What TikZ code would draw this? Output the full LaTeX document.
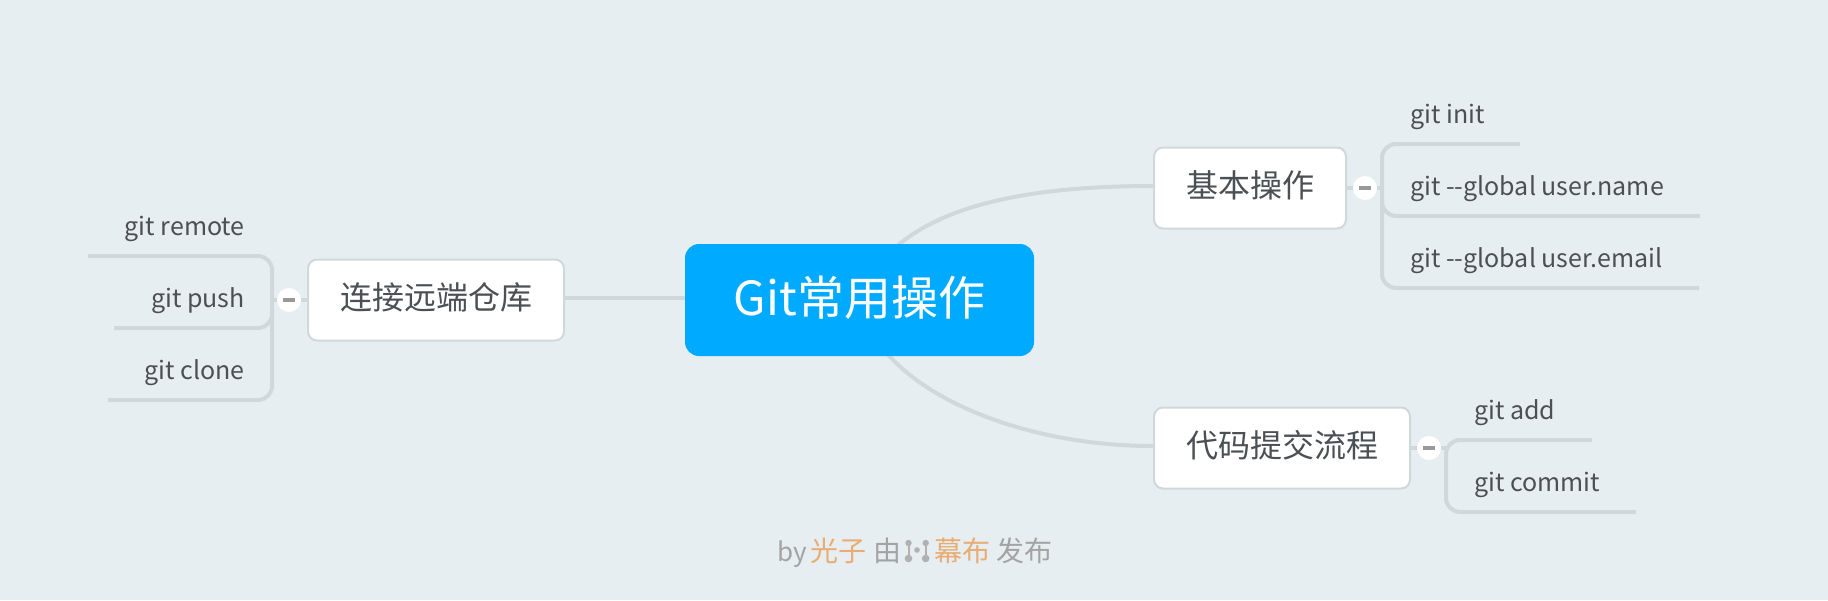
\documentclass[tikz,border=0pt]{standalone}
\usepackage{fontspec}
\setmainfont{Noto Sans CJK SC}
\usetikzlibrary{backgrounds}
\definecolor{bgc}{HTML}{E6EEF1}
\definecolor{linec}{HTML}{D0D8DC}
\definecolor{rootc}{HTML}{00AAFF}
\definecolor{textc}{HTML}{4A5054}
\definecolor{foldc}{HTML}{999999}
\definecolor{footc}{HTML}{A3A3A3}
\definecolor{orangec}{HTML}{E9AC73}
\newcommand{\liftup}[2]{\raisebox{#1}[\height][\depth]{#2}}
\tikzset{
  rootbox/.style={fill=rootc,rounded corners=14pt,minimum width=349pt,minimum height=112pt,inner sep=0pt,text=white,font=\fontsize{47}{52}\selectfont},
  topicbox/.style={draw=linec,line width=2pt,fill=white,rounded corners=9pt,minimum height=81pt,inner sep=0pt,text=textc,font=\fontsize{32}{36}\selectfont},
  leaf/.style={inner sep=0pt,text=textc,font=\fontsize{25}{30}\selectfont},
  conn/.style={draw=linec,line width=4pt},
  fold/.style={circle,fill=white,minimum size=24pt,inner sep=0pt},
  foot/.style={inner sep=0pt,text=footc,font=\fontsize{28}{32}\selectfont},
  footo/.style={foot,text=orangec},
}
\begin{document}
\begin{tikzpicture}[x=1pt,y=-1pt]
\useasboundingbox (0,0) rectangle (1828,600);
\node[rootbox] (root) at (859.5,300) {\liftup{2.5pt}{Git常用操作}};
\node[topicbox,minimum width=192pt] (basic) at (1250,188) {\liftup{3pt}{基本操作}};
\node[topicbox,minimum width=256pt] (remote) at (436,300) {\liftup{2.5pt}{连接远端仓库}};
\node[topicbox,minimum width=256pt] (flow) at (1282,448) {\liftup{3pt}{代码提交流程}};

\node[fold] (f1) at (1365,188) {};
\node[fold] (f2) at (289,300) {};
\node[fold] (f3) at (1429,448) {};

\node[leaf,anchor=base west] (a1) at (1410,123) {git init};
\node[leaf,anchor=base west] (a2) at (1410,195) {git {-}{-}global user.name};
\node[leaf,anchor=base west] (a3) at (1410,267) {git {-}{-}global user.email};
\node[leaf,anchor=base west] (c1) at (1474,419) {git add};
\node[leaf,anchor=base west] (c2) at (1474,491) {git commit};
\node[leaf,anchor=base east] (b1) at (245,235) {git remote};
\node[leaf,anchor=base east] (b2) at (245,307) {git push};
\node[leaf,anchor=base east] (b3) at (245,379) {git clone};

\coordinate (a1e) at (1520,144);
\coordinate (a2e) at (1700,216);
\coordinate (a3e) at (1699,288);
\coordinate (c1e) at (1592,440);
\coordinate (c2e) at (1636,512);
\coordinate (b1e) at (88,256);
\coordinate (b2e) at (114,328);
\coordinate (b3e) at (108,400);

\begin{pgfonlayer}{background}
\fill[bgc] (0,0) rectangle (1828,600);
\draw[conn] (root.center) .. controls (890,215) and (1000,186) .. ([yshift=2pt]basic.west);
\draw[conn] (root.center) .. controls (875,385) and (1010,446) .. ([yshift=2pt]flow.west);
\draw[conn] ([yshift=2pt]root.west) -- ([yshift=2pt]remote.east);
\draw[conn] (basic.east) -- (1382,188);
\draw[conn] (remote.west) -- (272,300);
\draw[conn] (flow.east) -- (1446,448);
\draw[conn,rounded corners=14pt] (a1e) -- (1382,144) -- (1382,216) -- (a2e);
\draw[conn,rounded corners=14pt] (1382,200) -- (1382,288) -- (a3e);
\draw[conn,rounded corners=14pt] (c1e) -- (1446,440) -- (1446,512) -- (c2e);
\draw[conn,rounded corners=14pt] (b1e) -- (272,256) -- (272,328) -- (b2e);
\draw[conn,rounded corners=14pt] (272,312) -- (272,400) -- (b3e);
\end{pgfonlayer}

\fill[foldc] (1359,186) rectangle (1371,190);
\fill[foldc] (283,298) rectangle (295,302);
\fill[foldc] (1423,446) rectangle (1435,450);

% footer
\node[foot,anchor=base west,font=\fontsize{26}{32}\selectfont] (by) at (777,561) {by};
\node[footo,anchor=base west] (n1) at (810,561) {光子};
\node[foot,anchor=base west] (n2) at (873,561) {由};
\node[footo,anchor=base west] (n3) at (934,561) {幕布};
\node[foot,anchor=base west] (n4) at (996,561) {发布};
\begin{scope}[draw=footc!85,fill=footc!85]
\fill (908.5,543) circle (3.2pt);
\fill (908.5,558.5) circle (3.8pt);
\draw[line width=2pt] (908.5,543) -- (908.5,558.5);
\fill (925.7,543) circle (3.2pt);
\fill (925.7,558.5) circle (3.8pt);
\draw[line width=2pt] (925.7,543) -- (925.7,558.5);
\fill (917,550) circle (2.8pt);
\end{scope}
\end{tikzpicture}
\end{document}
